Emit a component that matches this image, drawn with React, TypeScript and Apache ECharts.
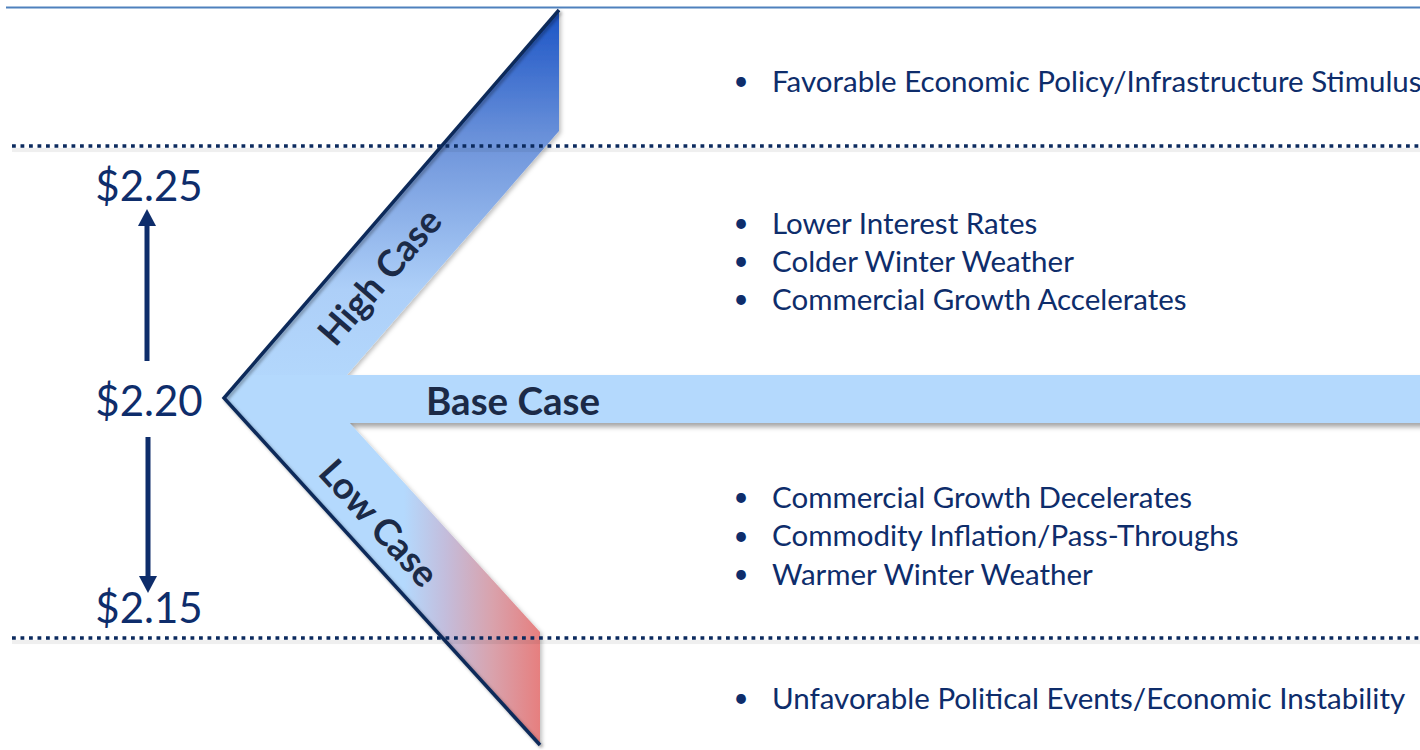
import React, { useEffect, useRef } from "react";
import * as echarts from "echarts";

const prices = [2.25, 2.2, 2.15];
const caseLabels = ["High Case", "Base Case", "Low Case"];
const topDrivers = ["Favorable Economic Policy/Infrastructure Stimulus"];
const highDrivers = ["Lower Interest Rates", "Colder Winter Weather", "Commercial Growth Accelerates"];
const lowDrivers = ["Commercial Growth Decelerates", "Commodity Inflation/Pass-Throughs", "Warmer Winter Weather"];
const bottomDrivers = ["Unfavorable Political Events/Economic Instability"];

const NAVY = "#0e2d6b";
const LABEL_DARK = "#1b2a47";
const LIGHT = "#b4d9fd";
const FONT = "Lato, 'Open Sans', sans-serif";

function bulletBlock(items: string[], startY: number, gap: number) {
  const out: any[] = [];
  items.forEach((t, i) => {
    const y = startY + i * gap;
    out.push({
      type: "text", x: 741, y, z: 20,
      style: { text: "•", font: `26px ${FONT}`, fill: NAVY, align: "center", verticalAlign: "middle" },
    });
    out.push({
      type: "text", x: 772, y, z: 20,
      style: { text: t, font: `29.5px ${FONT}`, fill: NAVY, align: "left", verticalAlign: "middle" },
    });
  });
  return out;
}

export default function App() {
  const ref = useRef<HTMLDivElement>(null);
  useEffect(() => {
    if (!ref.current) return;
    const chart = echarts.init(ref.current, undefined, { renderer: "svg" });
    const deg = Math.PI / 180;
    const graphic: any[] = [
      // top rule
      { type: "line", z: 1, shape: { x1: 6, y1: 7.5, x2: 1420, y2: 7.5 }, style: { stroke: "#4f81bd", lineWidth: 2 } },
      // base band
      {
        type: "rect", z: 2, shape: { x: 300, y: 375, width: 1130, height: 48 },
        style: { fill: LIGHT, shadowBlur: 5, shadowOffsetY: 4, shadowColor: "rgba(0,0,0,0.35)" },
      },
      // high band
      {
        type: "polygon", z: 3,
        shape: { points: [[224, 398], [559, 10], [559, 131], [327, 398]] },
        style: {
          fill: new echarts.graphic.LinearGradient(0, 0, 0, 1, [
            { offset: 0, color: "#1a53c5" },
            { offset: 0.35, color: "#6f95db" },
            { offset: 0.72, color: "#adcff8" },
            { offset: 1, color: LIGHT },
          ]),
          shadowBlur: 4, shadowOffsetX: 2, shadowOffsetY: 2, shadowColor: "rgba(0,0,0,0.25)",
        },
      },
      // low band
      {
        type: "polygon", z: 4,
        shape: { points: [[224, 398], [327, 398], [540, 632], [540, 745]] },
        style: {
          fill: new echarts.graphic.LinearGradient(0, 0, 1, 0, [
            { offset: 0, color: LIGHT },
            { offset: 0.57, color: LIGHT },
            { offset: 0.7, color: "#c3bddc" },
            { offset: 0.85, color: "#d9a2ac" },
            { offset: 1, color: "#e67f7f" },
          ]),
          shadowBlur: 4, shadowOffsetX: 2, shadowOffsetY: 2, shadowColor: "rgba(0,0,0,0.25)",
        },
      },
      // junction patch (seamless chevron / base join)
      {
        type: "polygon", z: 4,
        shape: { points: [[229, 398], [247, 375], [362, 375], [362, 423], [250, 423]] },
        style: { fill: LIGHT },
      },
      // outer stroke
      {
        type: "polyline", z: 5,
        shape: { points: [[559, 10], [224, 398], [540, 745]] },
        style: {
          stroke: "#0c2a5a", lineWidth: 3.5, fill: "none", lineJoin: "miter",
          shadowBlur: 3, shadowOffsetX: 2, shadowOffsetY: 2, shadowColor: "rgba(0,0,0,0.3)",
        },
      },
      // dotted line shadows
      ...[146, 638].map((y) => ({
        type: "rect", z: 6, shape: { x: 12, y: y + 2, width: 1410, height: 4 },
        style: { fill: "rgba(0,0,0,0.06)", shadowBlur: 4, shadowColor: "rgba(0,0,0,0.12)" },
      })),
      // dotted lines
      ...[146, 638].map((y) => ({
        type: "line", z: 7, shape: { x1: 12, y1: y, x2: 1420, y2: y },
        style: { stroke: "#0b2a5e", lineWidth: 3.5, lineDash: [3.8, 4.7] },
      })),
      // case labels
      {
        type: "text", x: 379, y: 276, rotation: 49.2 * deg, z: 10,
        style: { text: caseLabels[0], font: `bold 37px ${FONT}`, fill: LABEL_DARK, align: "center", verticalAlign: "middle" },
      },
      {
        type: "text", x: 513, y: 400, z: 10,
        style: { text: caseLabels[1], font: `bold 38.5px ${FONT}`, fill: LABEL_DARK, align: "center", verticalAlign: "middle" },
      },
      {
        type: "text", x: 380, y: 522, rotation: -47.7 * deg, z: 10,
        style: { text: caseLabels[2], font: `bold 37px ${FONT}`, fill: LABEL_DARK, align: "center", verticalAlign: "middle" },
      },
      // price labels
      ...prices.map((p, i) => ({
        type: "text", x: 149, y: [185, 400, 607][i], z: 10,
        style: { text: "$" + p.toFixed(2), font: `42px ${FONT}`, fill: NAVY, align: "center", verticalAlign: "middle" },
      })),
      // up arrow
      { type: "line", z: 10, shape: { x1: 147, y1: 361, x2: 147, y2: 222 }, style: { stroke: NAVY, lineWidth: 5 } },
      { type: "polygon", z: 10, shape: { points: [[138, 226], [147, 209], [156, 226]] }, style: { fill: NAVY } },
      // down arrow
      { type: "line", z: 10, shape: { x1: 148, y1: 437, x2: 148, y2: 580 }, style: { stroke: NAVY, lineWidth: 5 } },
      { type: "polygon", z: 10, shape: { points: [[139, 576], [148, 593], [157, 576]] }, style: { fill: NAVY } },
      ...bulletBlock(topDrivers, 80, 38),
      ...bulletBlock(highDrivers, 222, 38),
      ...bulletBlock(lowDrivers, 496, 38.5),
      ...bulletBlock(bottomDrivers, 697, 38),
    ];
    chart.setOption({
      animation: false,
      backgroundColor: "#ffffff",
      graphic,
    });
    return () => chart.dispose();
  }, []);
  return <div ref={ref} style={{ position: "absolute", left: 0, top: 0, width: 1420, height: 750 }} />;
}
